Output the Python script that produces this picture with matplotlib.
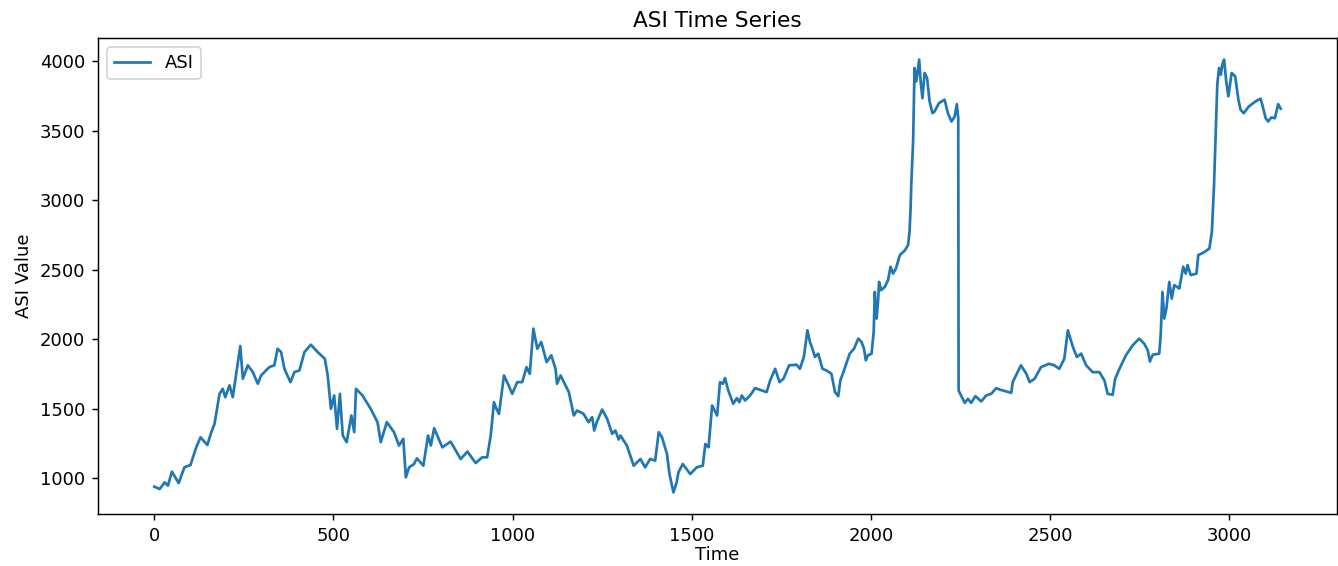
import matplotlib.pyplot as plt

# ASI values (time index, value)
time = [0, 15, 29, 38, 49, 68, 84, 101, 117, 129, 148, 159, 168, 182, 191, 198,
        210, 219, 228, 240, 247, 261, 275, 289, 298, 321, 335, 344, 354, 363,
        380, 391, 405, 419, 437, 456, 476, 484, 493, 502, 510, 518, 526, 537,
        550, 558, 563, 581, 604, 623, 632, 649, 669, 683, 695, 702, 711, 725,
        733, 751, 764, 772, 781, 804, 827, 855, 874, 897, 915, 929, 939, 948,
        955, 962, 976, 987, 999, 1013, 1027, 1039, 1048, 1058, 1069, 1080,
        1095, 1108, 1120, 1124, 1134, 1157, 1171, 1180, 1198, 1212, 1222,
        1228, 1235, 1250, 1264, 1278, 1287, 1296, 1301, 1319, 1338, 1357,
        1370, 1384, 1398, 1408, 1417, 1431, 1438, 1449, 1458, 1463, 1475,
        1496, 1514, 1531, 1538, 1547, 1557, 1571, 1579, 1587, 1593, 1602,
        1616, 1626, 1633, 1640, 1649, 1663, 1677, 1709, 1719, 1733, 1745,
        1756, 1772, 1793, 1802, 1813, 1823, 1830, 1837, 1844, 1853, 1865,
        1876, 1890, 1900, 1909, 1915, 1925, 1941, 1953, 1965, 1974, 1981,
        1986, 1992, 2002, 2008, 2011, 2016, 2020, 2023, 2029, 2039, 2048,
        2055, 2062, 2070, 2081, 2095, 2104, 2108, 2111, 2113, 2118, 2122,
        2127, 2135, 2139, 2144, 2150,
        2157, 2164, 2172, 2178, 2190, 2206, 2215, 2225, 2234, 2240, 2244,
        2245, 2252, 2262, 2271, 2280, 2292, 2308, 2322, 2336, 2350, 2359,
        2392, 2396, 2419, 2434, 2443, 2457, 2475, 2497, 2512, 2526, 2540,
        2550, 2564, 2575, 2587, 2601, 2619, 2638, 2652, 2661, 2675, 2682,
        2694, 2712, 2731, 2749, 2763, 2773, 2779, 2787, 2805, 2809, 2814,
        2819, 2825, 2833, 2840, 2847, 2861, 2872, 2879, 2884, 2893, 2909,
        2914, 2930, 2945, 2952, 2958, 2967, 2972, 2977, 2981, 2986, 2992,
        2998, 3007, 3017, 3026, 3032, 3041, 3055, 3074, 3088, 3094, 3102,
        3109, 3118, 3128, 3137, 3144]
asi = [940, 923, 971, 947, 1048, 966, 1079, 1096, 1223, 1295, 1240, 1331, 1391,
       1608, 1644, 1584, 1669, 1584, 1740, 1952, 1716, 1813, 1764, 1680, 1740,
       1800, 1813, 1932, 1908, 1788, 1692, 1764, 1776, 1908, 1961, 1908, 1860,
       1740, 1500, 1596, 1356, 1608, 1308, 1260, 1452, 1332, 1644, 1596, 1500,
       1404, 1260, 1404, 1332, 1236, 1284, 1007, 1079, 1103, 1144, 1091, 1308,
       1236, 1360, 1223, 1264, 1139, 1192, 1110, 1151, 1151, 1308, 1548, 1500,
       1464, 1740, 1680, 1608, 1692, 1692, 1800, 1752, 2077, 1932, 1981, 1836,
       1885, 1788, 1680, 1740, 1620, 1452, 1488, 1464, 1404, 1440, 1344, 1404,
       1495, 1428, 1320, 1344, 1279, 1308, 1236, 1091, 1139, 1079, 1139, 1127,
       1332, 1296, 1175, 1031, 899, 971, 1043, 1103, 1031, 1079, 1091, 1247,
       1223, 1524, 1452, 1692, 1680, 1721, 1632, 1536, 1577, 1548, 1596, 1560,
       1596, 1649, 1620, 1704, 1788, 1692, 1716, 1813, 1817, 1788, 1873, 2065,
       1981, 1932, 1873, 1897, 1788, 1776, 1752, 1620, 1591, 1704, 1776, 1897,
       1932, 2005, 1981, 1932, 1849, 1885, 1897, 2053, 2341, 2149, 2269, 2413,
       2353, 2377, 2425, 2522, 2473, 2509, 2606, 2640, 2678, 2774, 2942, 3122,
       3423, 3952, 3856, 4012, 3856,
       3735, 3916, 3880, 3712, 3627, 3639, 3699, 3724, 3627, 3567, 3603, 3692,
       3591, 1632, 1596, 1543, 1572, 1543, 1591, 1553, 1596, 1608, 1649, 1639,
       1615, 1692, 1813, 1752, 1692, 1716, 1800, 1824, 1813, 1788, 1860, 2065,
       1945, 1873, 1897, 1813, 1764, 1764, 1704, 1608, 1601, 1716, 1788, 1885,
       1957, 2005, 1969, 1921, 1841, 1889, 1897, 2029, 2341, 2149, 2221, 2413,
       2293, 2390, 2365, 2522, 2473, 2534, 2462, 2473, 2606, 2626, 2653, 2774,
       3111, 3832, 3952, 3904, 3976, 4012, 3856, 3748, 3916, 3892, 3724, 3652,
       3627, 3675, 3712, 3731, 3675, 3591, 3567, 3596, 3591, 3692, 3659]

dpi = 130
fig, ax = plt.subplots(figsize=(1338/dpi, 566/dpi), dpi=dpi)
fig.subplots_adjust(left=98/1338, right=1337/1338, top=1-38/566, bottom=1-514/566)

ax.plot(time, asi, label='ASI')
ax.set_title('ASI Time Series')
ax.set_xlabel('Time', labelpad=1)
ax.set_ylabel('ASI Value')
ax.legend(loc='upper left')

plt.savefig('out.png', dpi=dpi)
